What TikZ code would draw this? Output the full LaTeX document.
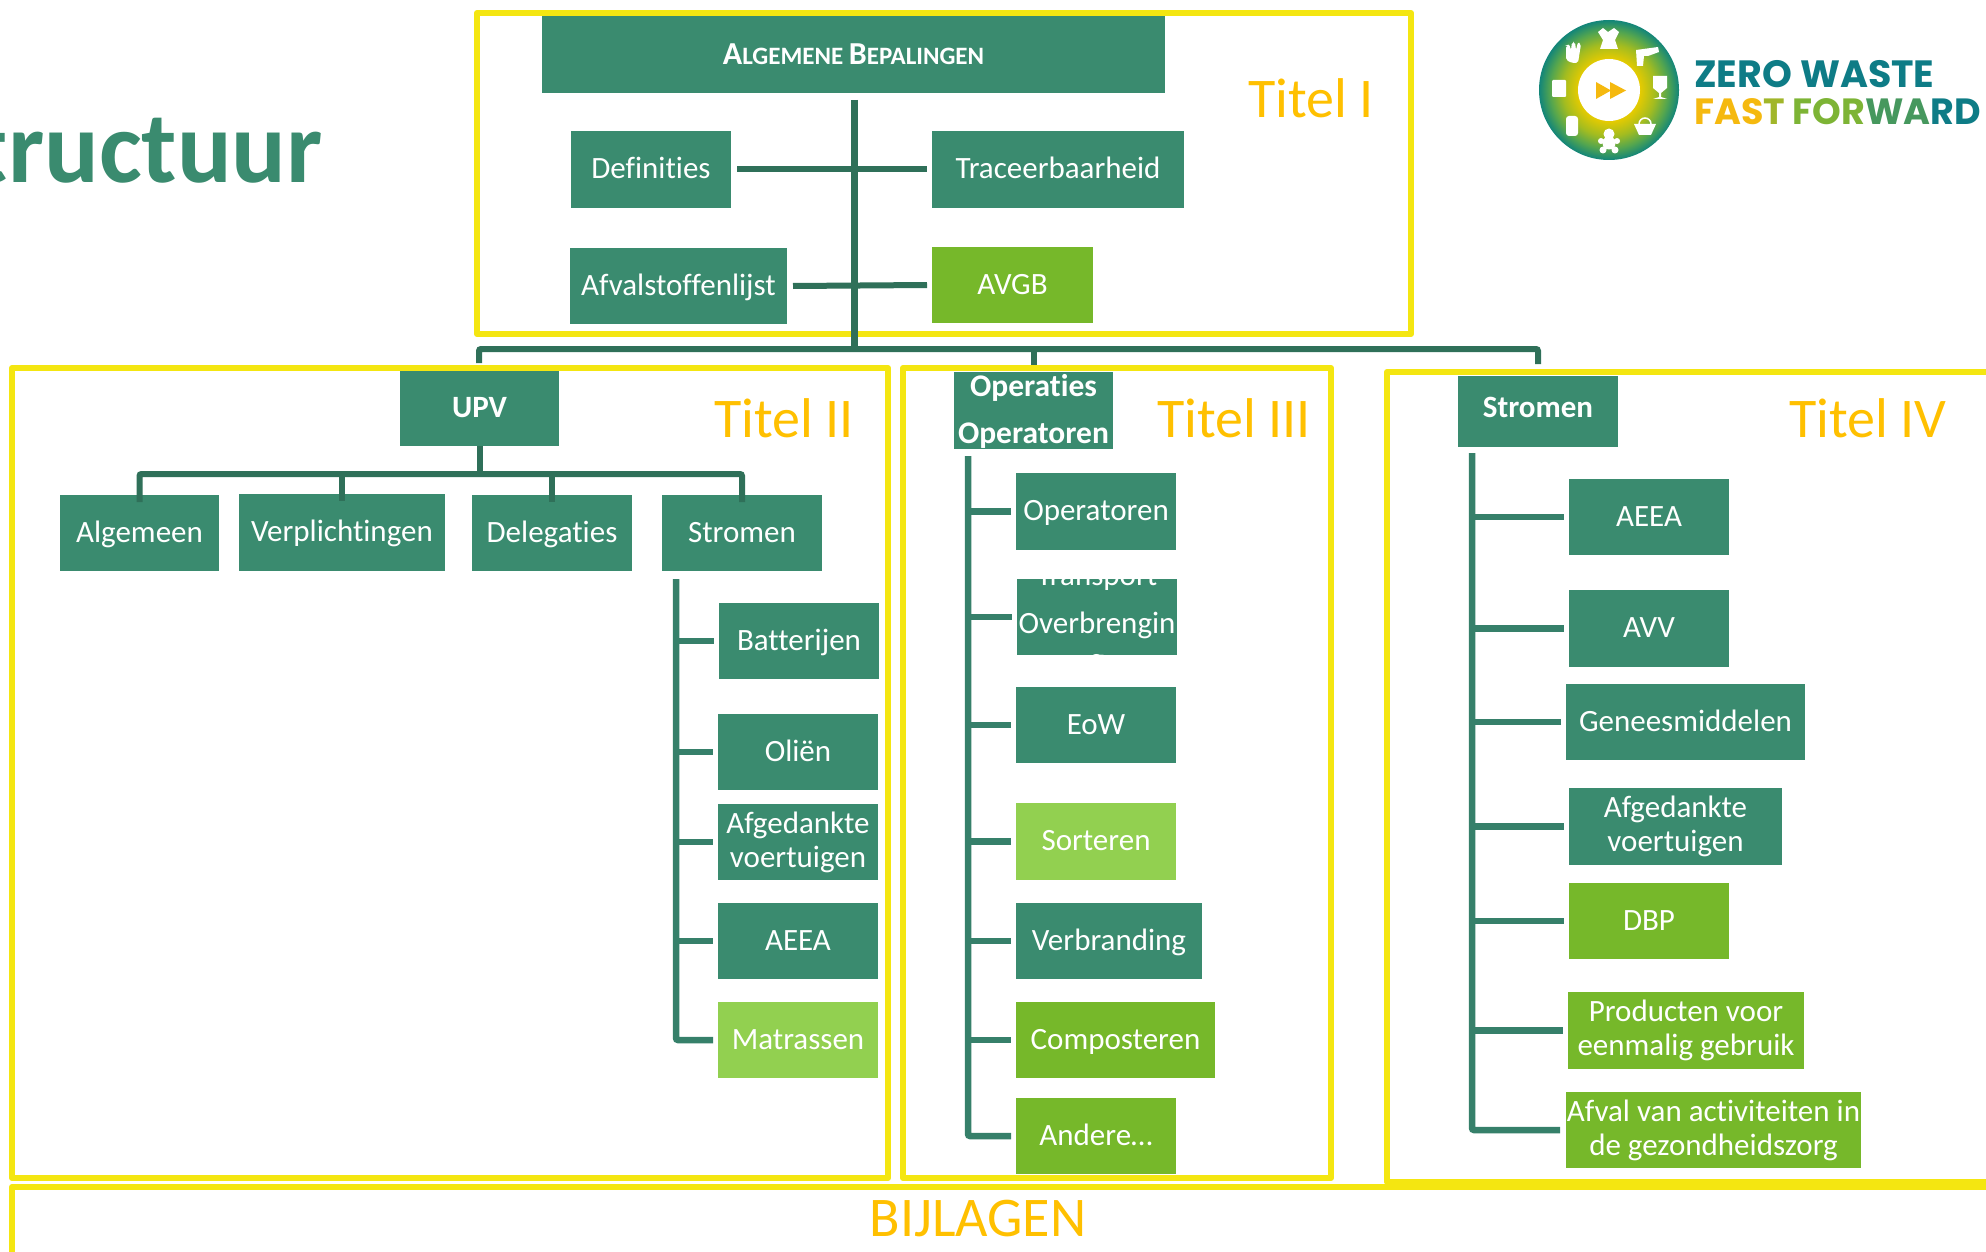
\documentclass[tikz,border=0pt]{standalone}
\usepackage{fontspec}
\setmainfont{Carlito}[Ligatures={NoCommon,TeX}]
\newfontfamily\logofont{Poppins}
\definecolor{teal1}{HTML}{3A8B6F}
\definecolor{conA}{HTML}{2F7059}
\definecolor{conB}{HTML}{36806A}
\definecolor{frameY}{HTML}{F4E611}
\definecolor{orangeT}{HTML}{FFC000}
\definecolor{greenM}{HTML}{76B82A}
\definecolor{greenL}{HTML}{92D050}
\definecolor{logoTeal}{HTML}{0E7C86}
\definecolor{logoOr}{HTML}{F5B90F}
\definecolor{logoG}{HTML}{7DB435}
\definecolor{shA}{HTML}{E6CB00}
\definecolor{shB}{HTML}{A3BC20}
\definecolor{shC}{HTML}{55A64E}
\definecolor{shD}{HTML}{128579}
\pgfdeclareradialshading{logoshade}{\pgfpoint{0bp}{0bp}}{color(0bp)=(shA);color(11bp)=(shA);color(16.5bp)=(shB);color(21bp)=(shC);color(25bp)=(shD);color(50bp)=(shD)}
\tikzset{
 boxbase/.style={inner sep=0pt,outer sep=0pt,align=center,text=white,font=\fontsize{31}{34}\selectfont},
 tealbox/.style={boxbase,fill=teal1},
 greenbox/.style={boxbase,fill=greenM},
 lightbox/.style={boxbase,fill=greenL},
 framebox/.style={draw=frameY,line width=6pt,line join=round,inner sep=0pt},
 busA/.style={draw=conA,line width=6pt,rounded corners=2pt},
 busB/.style={draw=conB,line width=6.5pt,rounded corners=2pt},
 titlelabel/.style={text=orangeT,font=\fontsize{56}{60}\selectfont,inner sep=0pt},
 logoicon/.style={fill=white,draw=none},
}
\newcommand{\bx}[7][]{\node[#6,minimum width={(#4-#2)*1pt},minimum height={(#5-#3)*1pt},#1] (#7) at ({(#2+#4)/2},{(#3+#5)/2})}
\newcommand{\st}{\rule[-9pt]{0pt}{36pt}}
\begin{document}
\begin{tikzpicture}[x=1pt,y=-1pt]
\useasboundingbox (0,0) rectangle (1986,1252);
\clip (0,0) rectangle (1986,1252);
\fill[white] (0,0) rectangle (1986,1252);

% frames
\node[framebox,minimum width=934pt,minimum height=321pt] (f1) at (944,173.5) {};
\node[framebox,minimum width=876pt,minimum height=810pt] (f2) at (450,773) {};
\node[framebox,minimum width=428pt,minimum height=810pt] (f3) at (1117,773) {};
\node[framebox,minimum width=623pt,minimum height=810pt] (f4) at (1698.5,777) {};
\node[framebox,minimum width=1988pt,minimum height=67.5pt] (f5) at (1006,1220.75) {};

% title
\node[anchor=base east,text=teal1,font=\fontsize{102}{110}\selectfont\bfseries,inner sep=0pt] (ttl) at (323,183) {Structuur};

% titel labels
\node[titlelabel] (t1) at (1311,98) {Titel I};
\node[titlelabel] (t2) at (784,418) {Titel II};
\node[titlelabel] (t3) at (1234,418) {Titel III};
\node[titlelabel] (t4) at (1868,418) {Titel IV};
\node[titlelabel] (t5) at (978,1219) {BIJLAGEN};

% Titel I boxes
\bx{542}{16}{1165}{93}{tealbox}{alg}{\bfseries\fontsize{32}{34}\selectfont A\fontsize{25}{34}\selectfont LGEMENE \fontsize{32}{34}\selectfont B\fontsize{25}{34}\selectfont EPALINGEN};
\bx{571}{131}{731}{208}{tealbox}{def}{\st Definities};
\bx{932}{131}{1184}{208}{tealbox}{tra}{\st Traceerbaarheid};
\bx{570}{248}{787}{324}{tealbox}{afv}{\st Afvalstoffenlijst};
\bx{932}{247}{1093}{323}{greenbox}{avgb}{\st AVGB};

% Titel II boxes
\bx{400}{371}{559}{446}{tealbox}{upv}{\bfseries\st UPV};
\bx{60}{495}{219}{571}{tealbox}{algm}{\st Algemeen};
\bx{239}{494}{445}{571}{tealbox}{verp}{\st Verplichtingen};
\bx{472}{495}{632}{571}{tealbox}{dele}{\st Delegaties};
\bx{662}{495}{822}{571}{tealbox}{strA}{\st Stromen};
\bx{719}{603}{879}{679}{tealbox}{batt}{\st Batterijen};
\bx{718}{714}{878}{790}{tealbox}{olie}{\st Oliën};
\bx{718}{804}{878}{880}{tealbox}{afgA}{Afgedankte\\voertuigen};
\bx{718}{903}{878}{979}{tealbox}{aeeaA}{\st AEEA};
\bx{718}{1002}{878}{1078}{lightbox}{matr}{\st Matrassen};

% Titel III boxes
\bx{954}{372}{1113}{449}{tealbox}{oper}{};
\begin{scope}
\clip (oper.south west) rectangle (oper.north east);
\node[boxbase,font=\fontsize{31.5}{47}\selectfont\bfseries] (operT) at ([yshift=-1pt]oper.center) {Operaties\\Operatoren};
\end{scope}
\bx{1016}{473}{1176}{550}{tealbox}{opto}{\st Operatoren};
\bx{1017}{579}{1177}{655}{tealbox}{over}{};
\begin{scope}
\clip (over.south west) rectangle (over.north east);
\node[boxbase,font=\fontsize{31}{48}\selectfont] (overT) at ([yshift=-3.5pt]over.center) {Transport\\Overbrengin\\[-12pt]g};
\end{scope}
\bx{1016}{687}{1176}{763}{tealbox}{eow}{\st EoW};
\bx{1016}{803}{1176}{880}{lightbox}{sort}{\st Sorteren};
\bx{1016}{903}{1202}{979}{tealbox}{verb}{\st Verbranding};
\bx{1016}{1002}{1215}{1078}{greenbox}{comp}{\st Composteren};
\bx{1016}{1098}{1176}{1174}{greenbox}{ande}{\st Andere…};

% Titel IV boxes
\bx{1458}{376}{1618}{447}{tealbox}{strB}{\bfseries\rule[-12pt]{0pt}{36pt}Stromen};
\bx{1569}{479}{1729}{555}{tealbox}{aeeaB}{\st AEEA};
\bx{1569}{590}{1729}{667}{tealbox}{avv}{\st AVV};
\bx{1566}{684}{1805}{760}{tealbox}{gene}{\st Geneesmiddelen};
\bx{1569}{788}{1782}{865}{tealbox}{afgB}{Afgedankte\\voertuigen};
\bx{1569}{883}{1729}{959}{greenbox}{dbp}{\st DBP};
\bx{1568}{992}{1804}{1069}{greenbox}{prod}{Producten voor\\eenmalig gebruik};
\bx{1566}{1092}{1861}{1168}{greenbox}{afac}{Afval van activiteiten in\\de gezondheidszorg};

% connectors Titel I
\coordinate (spineTop) at (854,100);
\coordinate (spineBot) at (854,349);
\coordinate (busL) at (479,349);
\coordinate (busR) at (1538,349);
\draw[busA,line width=7pt] (spineTop) -- (spineBot);
\draw[busA] ([xshift=6pt]def.east) -- ([xshift=-5pt]tra.west);
\draw[busA] ([xshift=6pt]afv.east) -- ([xshift=-5pt]avgb.west);
\draw[busA] ([yshift=8pt]upv.north -| busL) -- (busL) -- (busR) -- ([yshift=12pt]strB.north);
\draw[busA] (spineBot -| oper.north) -- ([yshift=7pt]oper.north);

% connectors Titel II
\coordinate (upvBus) at (upv.south |- 0,474);
\draw[busA] (upv.south) -- (upvBus);
\draw[busA] ([yshift=-7pt]algm.north) -- (algm.north |- upvBus) -- (strA.north |- upvBus) -- ([yshift=-7pt]strA.north);
\draw[busA] (verp.north |- upvBus) -- ([yshift=-7pt]verp.north);
\draw[busA] (dele.north |- upvBus) -- ([yshift=-7pt]dele.north);
\coordinate (s2top) at (676,579);
\draw[busB] (s2top) -- (s2top |- matr.west) -- ([xshift=-5pt]matr.west);
\draw[busB] (s2top |- batt.west) -- ([xshift=-5pt]batt.west);
\draw[busB] (s2top |- olie.west) -- ([xshift=-5pt]olie.west);
\draw[busB] (s2top |- afgA.west) -- ([xshift=-5pt]afgA.west);
\draw[busB] (s2top |- aeeaA.west) -- ([xshift=-5pt]aeeaA.west);

% connectors Titel III
\coordinate (s3top) at (968,456);
\draw[busB] (s3top) -- (s3top |- ande.west) -- ([xshift=-5pt]ande.west);
\draw[busB] (s3top |- opto.west) -- ([xshift=-5pt]opto.west);
\draw[busB] (s3top |- over.west) -- ([xshift=-5pt]over.west);
\draw[busB] (s3top |- eow.west) -- ([xshift=-5pt]eow.west);
\draw[busB] (s3top |- sort.west) -- ([xshift=-5pt]sort.west);
\draw[busB] (s3top |- verb.west) -- ([xshift=-5pt]verb.west);
\draw[busB] (s3top |- comp.west) -- ([xshift=-5pt]comp.west);

% connectors Titel IV
\coordinate (s4top) at (1472,453);
\draw[busB] (s4top) -- (s4top |- afac.west) -- ([xshift=-6pt]afac.west);
\draw[busB] (s4top |- aeeaB.west) -- ([xshift=-5pt]aeeaB.west);
\draw[busB] (s4top |- avv.west) -- ([xshift=-5pt]avv.west);
\draw[busB] (s4top |- gene.west) -- ([xshift=-5pt]gene.west);
\draw[busB] (s4top |- afgB.west) -- ([xshift=-5pt]afgB.west);
\draw[busB] (s4top |- dbp.west) -- ([xshift=-5pt]dbp.west);
\draw[busB] (s4top |- prod.west) -- ([xshift=-5pt]prod.west);

% logo
\coordinate (lc) at (1609,90);
\shade[shading=logoshade] (lc) circle (70pt);
\fill[white] (lc) circle (31pt);
\fill[logoOr] (1596,82) -- (1611,90.5) -- (1596,99) -- cycle;
\fill[logoOr] (1610,82) -- (1626,90.5) -- (1610,99) -- cycle;
% icons: dress, drill, glass, basket, teddy, jar, parcel, glove
\fill[logoicon] (1603,28) -- (1608,32) -- (1614,28) -- (1619,32) -- (1615,40) -- (1618,49) -- (1600,49) -- (1603,40) -- (1598,32) -- cycle;
\fill[logoicon] (1636,50) -- (1658,47) -- (1659,52) -- (1648,56) -- (1644,56) -- (1643,66) -- (1637,66) -- cycle;
\fill[logoicon] (1653,76) -- (1667,76) -- (1667,88) -- (1661,93) -- (1661,97) -- (1667,99) -- (1653,99) -- (1659,97) -- (1659,93) -- (1653,88) -- cycle;
\fill[logoicon] (1634,124) -- (1656,124) -- (1651,135) -- (1639,135) -- cycle;
\draw[white,line width=1.5pt] (1639,124) arc[start angle=180,end angle=0,radius=6pt];
\fill[logoicon] (1609,134) circle (5.5pt) (1609,143) circle (6.5pt) (1601,141) circle (3pt) (1617,141) circle (3pt) (1603,150) circle (3.5pt) (1615,150) circle (3.5pt);
\fill[logoicon,rounded corners=3pt] (1566,116) rectangle (1578,136);
\fill[logoicon,rounded corners=1pt] (1552,80) rectangle (1566,97);
\fill[logoicon,rounded corners=2pt] (1566,46) -- (1566,60) -- (1572,63) -- (1578,63) -- (1581,44) -- (1578,42) -- (1576,50) -- (1575,42) -- (1572,42) -- (1571,50) -- (1569,44) -- (1567,46) -- cycle;

\node[anchor=base west,inner sep=0pt,font=\logofont\bfseries\fontsize{38}{40}\selectfont,text=logoTeal] (lt1) at (1694,88) {ZERO WASTE};
\node[anchor=base west,inner sep=0pt,font=\logofont\bfseries\fontsize{36.5}{40}\selectfont] (lt2) at (1694,125) {\textcolor{logoOr}{FAS}\textcolor{logoG!70!logoOr}{T} \textcolor{logoG}{FOR}\textcolor{logoG!50!logoTeal}{WA}\textcolor{logoTeal}{RD}};
\end{tikzpicture}
\end{document}
